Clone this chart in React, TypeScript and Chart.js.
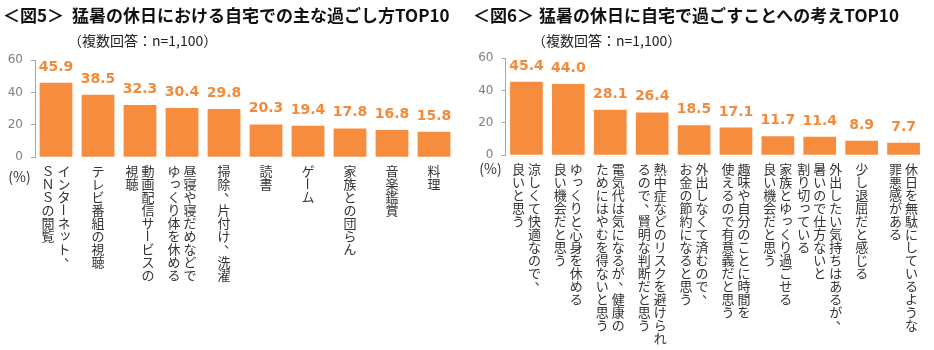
import React, { useEffect, useRef } from "react";
import { Chart, registerables } from "chart.js";

Chart.register(...registerables);

// ---------- data ----------
const fig5Title = "猛暑の休日における自宅での主な過ごし方TOP10";
const fig6Title = "猛暑の休日に自宅で過ごすことへの考えTOP10";
const subtitleText = "（複数回答：n=1,100）";
const unitLabel = "(%)";

const fig5Values = [45.9, 38.5, 32.3, 30.4, 29.8, 20.3, 19.4, 17.8, 16.8, 15.8];
const fig5Labels: string[][] = [
  ["インターネット、", "ＳＮＳの閲覧"],
  ["テレビ番組の視聴"],
  ["動画配信サービスの", "視聴"],
  ["昼寝や寝だめなどで", "ゆっくり体を休める"],
  ["掃除、片付け、洗濯"],
  ["読書"],
  ["ゲーム"],
  ["家族との団らん"],
  ["音楽鑑賞"],
  ["料理"],
];

const fig6Values = [45.4, 44.0, 28.1, 26.4, 18.5, 17.1, 11.7, 11.4, 8.9, 7.7];
const fig6Labels: string[][] = [
  ["涼しくて快適なので、", "良いと思う"],
  ["ゆっくりと心身を休める", "良い機会だと思う"],
  ["電気代は気になるが、健康の", "ためにはやむを得ないと思う"],
  ["熱中症などのリスクを避けられ", "るので、賢明な判断だと思う"],
  ["外出しなくて済むので、", "お金の節約になると思う"],
  ["趣味や自分のことに時間を", "使えるので有意義だと思う"],
  ["家族とゆっくり過ごせる", "良い機会だと思う"],
  ["外出したい気持ちはあるが、", "暑いので仕方ないと", "割り切っている"],
  ["少し退屈だと感じる"],
  ["休日を無駄にしているような", "罪悪感がある"],
];

const yTicks = [0, 20, 40, 60];
const yMin = 0;
const yMax = 60;

// ---------- styles ----------
const BAR = "#F68C3E";
const VALUE = "#F28A3C";
const AXIS = "#A6A6A6";
const TICK = "#7F7F7F";
const TEXT = "#333333";
const JP = "'Noto Sans CJK JP', 'Noto Sans', sans-serif";

const SMALL = "ぁぃぅぇぉっゃゅょゎァィゥェォッャュョヮヵヶ";
const ROTATE = "ー－～〜…";
const PUNCT = "、。，．";

function drawVertical(ctx: CanvasRenderingContext2D, text: string, cx: number, top: number, size: number, pitch: number) {
  const chars = Array.from(text);
  chars.forEach((ch, i) => {
    const cy = top + i * pitch + pitch / 2;
    ctx.save();
    ctx.translate(cx, cy);
    if (ROTATE.includes(ch)) ctx.rotate(Math.PI / 2);
    else if (PUNCT.includes(ch)) ctx.translate(size * 0.5, -size * 0.5);
    else if (SMALL.includes(ch)) ctx.translate(size * 0.1, -size * 0.1);
    ctx.fillText(ch, 0, 0);
    ctx.restore();
  });
}

type PanelProps = {
  values: number[];
  labels: string[][];
  pad: { top: number; bottom: number; left: number; right: number };
  yWidth: number;
  pct: { x: number; y: number };
};

function ChartPanel({ values, labels, pad, yWidth, pct }: PanelProps) {
  const ref = useRef<HTMLCanvasElement>(null);
  useEffect(() => {
    const textPlugin = {
      id: "textPlugin",
      afterDatasetsDraw(chart: any) {
        const ctx: CanvasRenderingContext2D = chart.ctx;
        const meta = chart.getDatasetMeta(0);
        const area = chart.chartArea;
        ctx.save();
        // value labels
        ctx.font = "bold 14px 'DejaVu Sans', sans-serif";
        ctx.fillStyle = VALUE;
        ctx.textAlign = "center";
        ctx.textBaseline = "alphabetic";
        meta.data.forEach((bar: any, i: number) => {
          ctx.fillText(values[i].toFixed(1), bar.x, bar.y - 12);
        });
        // vertical category labels
        ctx.font = `13px ${JP}`;
        ctx.fillStyle = TEXT;
        ctx.textBaseline = "middle";
        const top = area.bottom + 7;
        const colGap = 16;
        labels.forEach((cols, i) => {
          const cx = chart.scales.x.getPixelForValue(i);
          const n = cols.length;
          cols.forEach((col, j) => {
            const x = cx + ((n - 1) / 2 - j) * colGap;
            drawVertical(ctx, col, x, top, 13, 13);
          });
        });
        // unit label
        ctx.font = `14px ${JP}`;
        ctx.fillStyle = TEXT;
        ctx.fillText(unitLabel, pct.x, pct.y);
        ctx.restore();
      },
    };
    const chart = new Chart(ref.current!, {
      type: "bar",
      data: {
        labels: labels.map((l) => l.join("")),
        datasets: [
          {
            data: values,
            backgroundColor: BAR,
            borderWidth: 0,
            barPercentage: 0.78,
            categoryPercentage: 1,
          },
        ],
      },
      options: {
        responsive: false,
        animation: false,
        devicePixelRatio: 1,
        layout: { padding: pad },
        plugins: { legend: { display: false }, tooltip: { enabled: false }, title: { display: false } },
        scales: {
          x: { display: false },
          y: {
            min: yMin,
            max: yMax,
            afterBuildTicks: (s: any) => {
              s.ticks = yTicks.map((v) => ({ value: v }));
            },
            afterFit: (s: any) => {
              s.width = yWidth;
            },
            ticks: {
              color: TICK,
              padding: 8,
              font: { family: "'DejaVu Sans', sans-serif", size: 12 },
            },
            grid: { drawOnChartArea: false, drawTicks: true, tickLength: 4, color: AXIS, lineWidth: 1 },
            border: { display: true, color: AXIS, width: 1 },
          },
        },
      },
      plugins: [textPlugin],
    } as any);
    return () => chart.destroy();
  }, []);
  return <canvas ref={ref} width={467} height={350} style={{ display: "block", width: 467, height: 350 }} />;
}

export default function App() {
  useEffect(() => {
    document.body.style.margin = "0";
    document.body.style.background = "#ffffff";
  }, []);
  const titleStyle: React.CSSProperties = {
    position: "absolute",
    fontFamily: JP,
    fontWeight: 700,
    fontSize: 17,
    lineHeight: "24px",
    color: "#111",
    whiteSpace: "nowrap",
  };
  const subStyle: React.CSSProperties = {
    position: "absolute",
    fontFamily: JP,
    fontSize: 14,
    lineHeight: "20px",
    color: "#222",
    whiteSpace: "nowrap",
  };
  return (
    <div style={{ position: "relative", width: 934, height: 350, overflow: "hidden", background: "#fff" }}>
      <div style={{ position: "absolute", left: 0, top: 0 }}>
        <ChartPanel
          values={fig5Values}
          labels={fig5Labels}
          pad={{ top: 60, bottom: 192.7, left: 0, right: 12 }}
          yWidth={35}
          pct={{ x: 19.5, y: 176.5 }}
        />
      </div>
      <div style={{ position: "absolute", left: 467, top: 0 }}>
        <ChartPanel
          values={fig6Values}
          labels={fig6Labels}
          pad={{ top: 58, bottom: 194.7, left: 0, right: 9.5 }}
          yWidth={38.5}
          pct={{ x: 23.5, y: 169 }}
        />
      </div>
      <div style={{ ...titleStyle, left: 3, top: 3 }}>＜図5＞</div>
      <div style={{ ...titleStyle, left: 72, top: 3 }}>{fig5Title}</div>
      <div style={{ ...subStyle, left: 68, top: 30 }}>{subtitleText}</div>
      <div style={{ ...titleStyle, left: 473, top: 3 }}>＜図6＞</div>
      <div style={{ ...titleStyle, left: 539, top: 3 }}>{fig6Title}</div>
      <div style={{ ...subStyle, left: 532, top: 30 }}>{subtitleText}</div>
    </div>
  );
}
